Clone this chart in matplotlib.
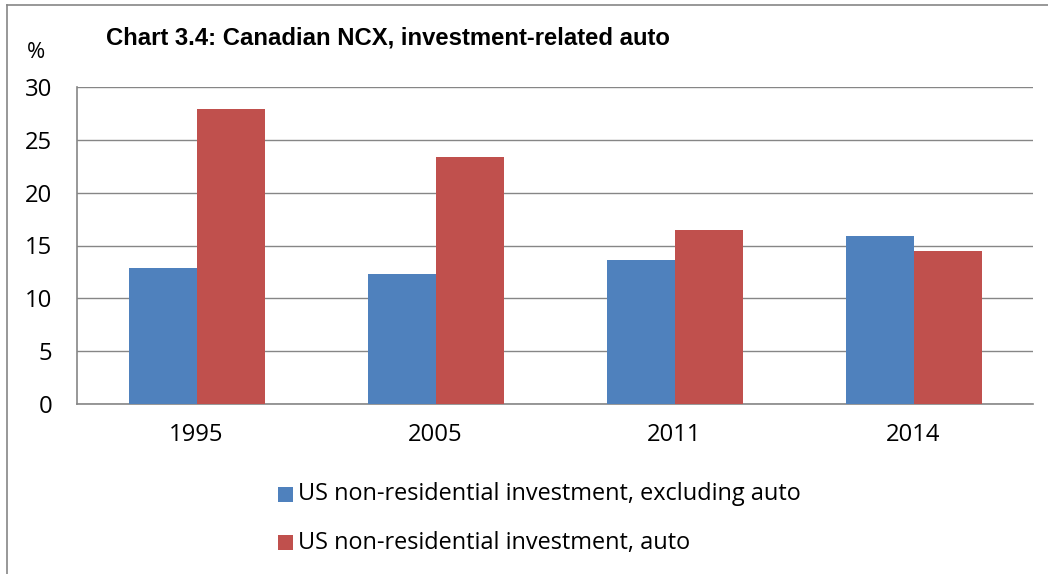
import matplotlib
matplotlib.use("Agg")
import matplotlib.pyplot as plt
from matplotlib.patches import Rectangle
from matplotlib.lines import Line2D
from matplotlib.textpath import TextPath
from matplotlib.font_manager import FontProperties
import numpy as np

categories = ["1995", "2005", "2011", "2014"]
excl_auto = [12.9, 12.3, 13.6, 15.9]
auto = [27.9, 23.4, 16.5, 14.5]
series_names = ["US non-residential investment, excluding auto",
                "US non-residential investment, auto"]
yticks = [0, 5, 10, 15, 20, 25, 30]
title = "Chart 3.4: Canadian NCX, investment-related auto"

BLUE = "#4F81BD"
RED = "#C0504D"
GRID = "#868686"
W, H = 1048, 574
BODY = "Open Sans"


def fit_size(s, target_px, family, weight="normal"):
    fp = FontProperties(family=family, weight=weight)
    ext = TextPath((0, 0), s, size=100, prop=fp).get_extents()
    return target_px * 72.0 / ext.width


fig = plt.figure(figsize=(W / 100, H / 100), dpi=100)
fig.patch.set_facecolor("white")

# outer frame (top and left)
fig.add_artist(Line2D([7 / W, 7 / W], [0, 1 - 5 / H], color=GRID, lw=1.2, transform=fig.transFigure))
fig.add_artist(Line2D([7 / W, 1], [1 - 5 / H, 1 - 5 / H], color=GRID, lw=1.2, transform=fig.transFigure))

left, right, top, bottom = 77, 1033, 87, 404
ax = fig.add_axes([left / W, 1 - bottom / H, (right - left) / W, (bottom - top) / H])

x = np.arange(len(categories))
bw = 68 / 239
ax.bar(x - bw / 2, excl_auto, width=bw, color=BLUE, zorder=3)
ax.bar(x + bw / 2, auto, width=bw, color=RED, zorder=3)

tick_size = fit_size("1995", 51, BODY)

ax.set_xlim(-0.5, len(categories) - 0.5)
ax.set_ylim(0, 30)
ax.set_yticks(yticks)
ax.set_xticks(x)
ax.set_xticklabels(categories)
ax.yaxis.grid(True, color=GRID, lw=1.0, zorder=0)
ax.set_axisbelow(True)
for s in ["top", "right"]:
    ax.spines[s].set_visible(False)
for s in ["left", "bottom"]:
    ax.spines[s].set_color(GRID)
    ax.spines[s].set_linewidth(1.2)
ax.tick_params(axis="y", length=0, pad=18, labelsize=tick_size)
ax.tick_params(axis="x", length=0, pad=14, labelsize=tick_size)
for lab in ax.get_xticklabels() + ax.get_yticklabels():
    lab.set_fontfamily(BODY)

title_size = fit_size(title, 562, "Liberation Sans", "bold")
fig.text(106 / W, 1 - 38 / H, title, fontsize=title_size, fontweight="bold",
         family="Liberation Sans", va="center", ha="left")
pct_size = fit_size("%", 16, BODY)
fig.text(27 / W, 1 - 52.5 / H, "%", fontsize=pct_size, family=BODY, va="center", ha="left")

# legend drawn as figure-level key
leg_size = fit_size(series_names[0], 499, BODY)
for i, (name, col) in enumerate(zip(series_names, [BLUE, RED])):
    cy = 494.5 + 48 * i
    fig.add_artist(Rectangle((278 / W, 1 - (cy + 7.5) / H), 14.5 / W, 15 / H,
                             facecolor=col, edgecolor="none", transform=fig.transFigure))
    fig.text(298 / W, 1 - cy / H, name, fontsize=leg_size, family=BODY,
             va="center", ha="left")

fig.savefig("out.png", dpi=100, facecolor="white")
